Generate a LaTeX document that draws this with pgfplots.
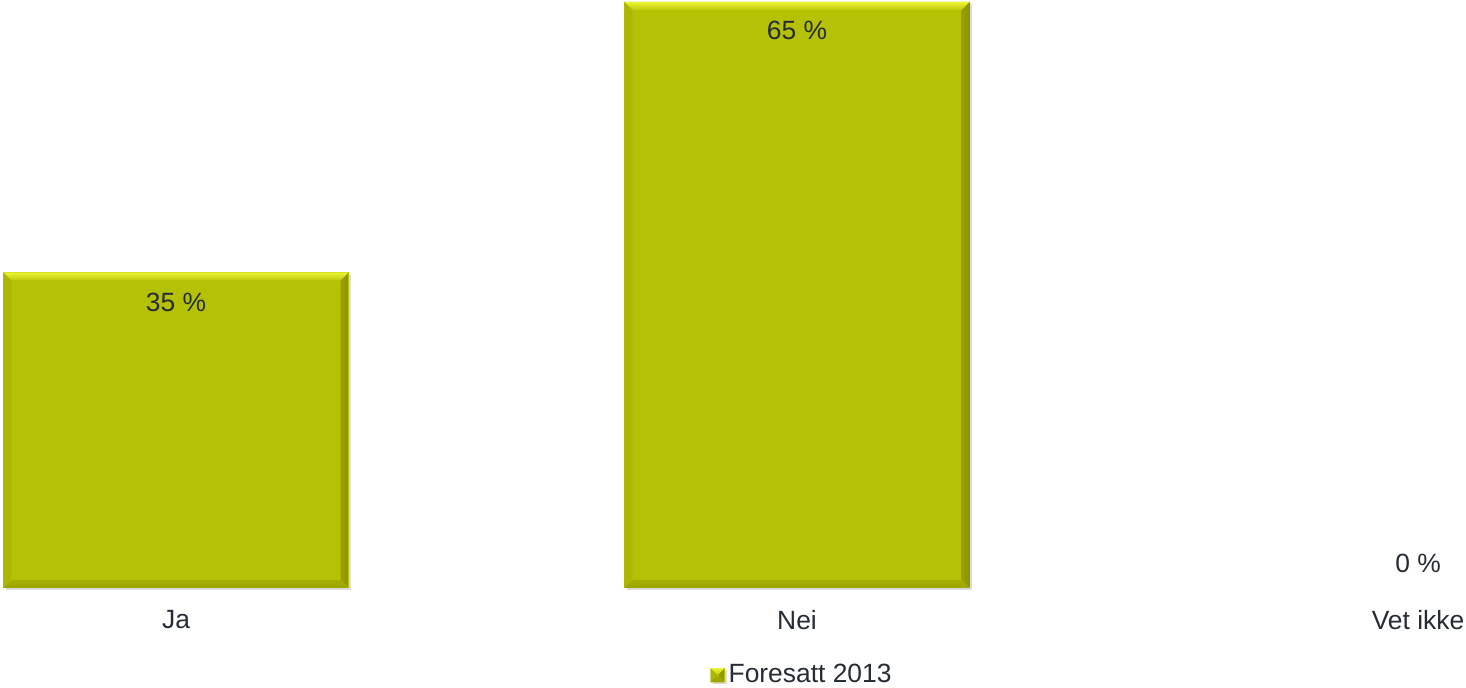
\documentclass[border=0pt]{standalone}
\usepackage{pgfplots}
\pgfplotsset{compat=1.18}
\usepackage{fontspec}
\setmainfont{Liberation Sans}
\definecolor{barfill}{RGB}{181,193,5}
\definecolor{bevtop}{RGB}{236,244,50}
\definecolor{bevright}{RGB}{140,147,0}
\definecolor{bevbottom}{RGB}{155,163,0}
\definecolor{bevleft}{RGB}{172,183,3}
\definecolor{txt}{RGB}{38,44,52}
\tikzset{
  bevel/.style={path picture={
    \coordinate (NW) at (path picture bounding box.north west);
    \coordinate (NE) at (path picture bounding box.north east);
    \coordinate (SW) at (path picture bounding box.south west);
    \coordinate (SE) at (path picture bounding box.south east);
    \fill[bevleft] (NW) -- ([shift={(#1,-#1)}]NW) -- ([shift={(#1,#1)}]SW) -- (SW) -- cycle;
    \shade[left color=bevright!70!barfill, right color=bevright] (NE) -- ([shift={(-#1,-#1)}]NE) -- ([shift={(-#1,#1)}]SE) -- (SE) -- cycle;
    \shade[top color=bevbottom!60!barfill, bottom color=bevbottom] (SW) -- ([shift={(#1,#1)}]SW) -- ([shift={(-#1,#1)}]SE) -- (SE) -- cycle;
    \shade[top color=bevtop, bottom color=barfill!85!bevtop] (NW) -- ([shift={(#1,-#1)}]NW) -- ([shift={(-#1,-#1)}]NE) -- (NE) -- cycle;
  }},
  bevel/.default=4pt,
}
\pgfplotsset{
  mybar/.style={fill=barfill, draw=none, bar shift=0pt,
    preaction={fill=black!14, transform canvas={xshift=1.2pt,yshift=-1.2pt}},
    postaction={bevel}},
}
\begin{document}
\begin{tikzpicture}
\useasboundingbox (0pt,-50pt) rectangle (733pt,294pt);
\begin{axis}[
  anchor=south west, at={(0pt,0pt)},
  scale only axis,
  width=733pt, height=294pt,
  xmin=-0.2834, xmax=2.0773,
  ymin=0, ymax=65.22,
  axis line style={draw=none},
  ytick=\empty,
  xtick={0,1,2},
  xticklabels={Ja,Nei,Vet ikke},
  major tick length=0pt,
  xticklabel style={font=\fontsize{13.2}{15}\selectfont, text=txt, yshift=-7.5pt},
  ybar, bar width=0.5556,
  legend style={at={(0.5478,-0.148)}, anchor=center, draw=none, fill=none,
    font=\fontsize{13.2}{15}\selectfont, text=txt, inner sep=0pt,
    legend cell align=left},
  legend image code/.code={\path[fill=barfill,bevel=1.6pt] (0pt,-3.5pt) rectangle (7pt,3.5pt);},
  clip=false,
]
\addplot[mybar] coordinates {(0,35)};
\addlegendentry{Foresatt 2013}
\addplot[mybar, forget plot] coordinates {(1,65)};
\addplot[mybar, forget plot, y filter/.expression={y==0 ? nan : y}] coordinates {(2,0)};
\addplot[draw=none, mark=none, forget plot,
  nodes near coords, point meta=explicit symbolic,
  every node near coord/.style={anchor=center, font=\fontsize{13.2}{15}\selectfont, text=txt}]
  coordinates {(0,31.7) [35 \%] (1,61.8) [65 \%] (2,2.77) [0 \%]};
\end{axis}
\end{tikzpicture}
\end{document}
